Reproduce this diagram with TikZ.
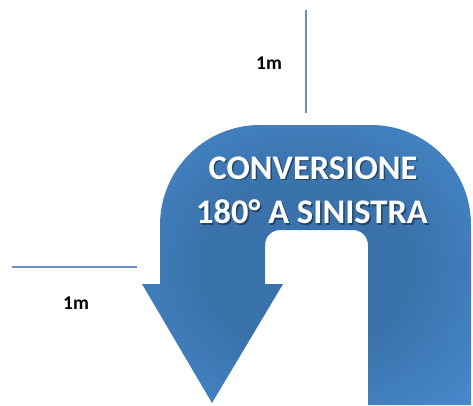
\documentclass[tikz,border=0pt]{standalone}
\usepackage{fontspec}
\setmainfont{Carlito}
\usepackage{xcolor}
\definecolor{bandLight}{HTML}{4B92D8}
\definecolor{bandDark}{HTML}{3A72AB}
\definecolor{ruleBlue}{HTML}{6F8FC4}
\pgfdeclareradialshading{uturn}{\pgfpointorigin}{color(0bp)=(bandDark); color(16bp)=(bandDark); color(42bp)=(bandLight); color(50bp)=(bandLight)}

\begin{document}
\begin{tikzpicture}[x=1pt, y=1pt,
    measure/.style={draw=ruleBlue, line width=1.5pt},
    dimlabel/.style={font=\fontsize{19.5}{19.5}\selectfont\bfseries, text=black, inner sep=0pt},
    title/.style={font=\fontsize{34.5}{34.5}\selectfont\bfseries, text=white, inner sep=0pt},
    titleshadow/.style={title, text=black, opacity=0.4}]

    \useasboundingbox (0,0) rectangle (473,405);

    % U-turn arrow
    \shade[shading=uturn] (471,0) -- (471,180)
        arc[start angle=0, end angle=90, radius=100] -- (260,280)
        arc[start angle=90, end angle=180, radius=100] -- (160,121)
        -- (142,121) -- (212,2) -- (283,121) -- (265,121) -- (265,160)
        arc[start angle=180, end angle=90, radius=15] -- (353,175)
        arc[start angle=90, end angle=0, radius=15] -- (368,0) -- cycle;

    % Measuring lines
    \coordinate (vtop) at (306,395);
    \coordinate (vbot) at (306,292);
    \coordinate (hleft) at (12,138);
    \coordinate (hright) at (137,138);
    \draw[measure] (vtop) -- (vbot);
    \draw[measure] (hleft) -- (hright);

    % Labels
    \node[dimlabel] (len1) at (269,342) {1m};
    \node[dimlabel] (len2) at (76,102) {1m};
    \node[titleshadow] (conv-sh) at (314.5,235.5) {CONVERSIONE};
    \node[titleshadow] (turn-sh) at (313.5,191.5) {180° A SINISTRA};
    \node[title] (conv) at (313,237) {CONVERSIONE};
    \node[title] (turn) at (312,193) {180° A SINISTRA};

\end{tikzpicture}
\end{document}
